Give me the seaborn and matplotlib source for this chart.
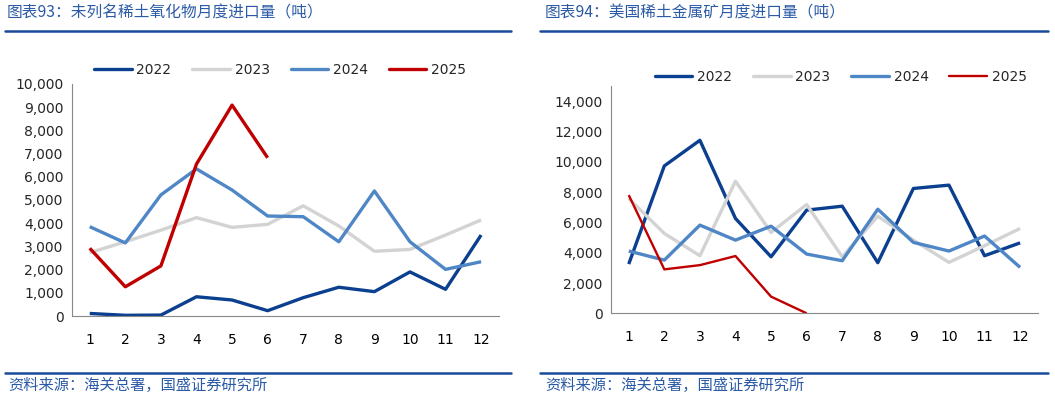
import matplotlib
matplotlib.use("Agg")
import matplotlib.pyplot as plt
import matplotlib.ticker as mticker
from matplotlib.lines import Line2D
import seaborn as sns
import pandas as pd

months = list(range(1, 13))
years = ["2022", "2023", "2024", "2025"]

# Panel 93: unlisted rare-earth oxides monthly imports (t)
left_2022 = [110, 30, 40, 830, 690, 230, 790, 1240, 1050, 1900, 1150, 3490]
left_2023 = [2730, 3200, 3700, 4240, 3820, 3950, 4750, 3880, 2790, 2870, 3490, 4140]
left_2024 = [3850, 3150, 5220, 6340, 5430, 4310, 4280, 3200, 5390, 3200, 2010, 2340]
left_2025 = [2920, 1260, 2160, 6550, 9090, 6820]

# Panel 94: US rare-earth metal ore monthly imports (t)
right_2022 = [3250, 9730, 11420, 6260, 3730, 6810, 7070, 3340, 8240, 8460, 3800, 4650]
right_2023 = [7580, 5270, 3800, 8720, 5340, 7180, 3730, 6410, 4830, 3360, 4460, 5600]
right_2024 = [4110, 3510, 5820, 4830, 5750, 3910, 3470, 6870, 4680, 4110, 5100, 3030]
right_2025 = [7800, 2900, 3180, 3780, 1100, 0]

title_left = "图表93：未列名稀土氧化物月度进口量（吨）"
title_right = "图表94：美国稀土金属矿月度进口量（吨）"
source_text = "资料来源：海关总署，国盛证券研究所"

colors = {"2022": "#0b3f8f", "2023": "#d3d3d3", "2024": "#4f86c6", "2025": "#c00000"}


def to_long(series_list):
    rows = []
    for y, vals in zip(years, series_list):
        for m, v in zip(months, vals):
            rows.append({"month": m, "value": v, "year": y})
    return pd.DataFrame(rows)


sns.set_style("white")
plt.rcParams["font.family"] = ["DejaVu Sans", "Noto Sans CJK SC"]

fig = plt.figure(figsize=(10.55, 3.98), dpi=100)

cjk = ["Noto Sans CJK SC", "DejaVu Sans"]
blue_txt = "#2b5aa6"
rule_col = "#1b4a9a"


def panel(rect, data, ymax, ystep, ytop, legend_center, widths):
    ax = fig.add_axes(rect)
    df = to_long(data)
    for y in years:
        sub = df[df["year"] == y]
        sns.lineplot(data=sub, x="month", y="value", color=colors[y],
                     linewidth=widths[y], ax=ax, legend=False,
                     solid_capstyle="butt")
    ax.set_xlim(0.5, 12.5)
    ax.set_ylim(0, ytop)
    ax.set_xticks(months)
    ax.set_xticklabels([str(m) for m in months])
    ax.xaxis.set_minor_locator(mticker.FixedLocator([m + 0.5 for m in range(0, 13)]))
    ax.set_yticks(list(range(0, ymax + 1, ystep)))
    ax.yaxis.set_major_formatter(mticker.FuncFormatter(lambda v, p: f"{int(v):,}"))
    ax.tick_params(axis="x", which="major", length=0, pad=12, labelsize=10, colors="#000000")
    ax.tick_params(axis="x", which="minor", length=5, direction="in", color="#888888", width=0.8)
    ax.tick_params(axis="y", which="major", length=5, direction="in", color="#888888",
                   width=0.8, labelsize=10, pad=6)
    ax.set_xlabel("")
    ax.set_ylabel("")
    for s in ["top", "right"]:
        ax.spines[s].set_visible(False)
    for s in ["left", "bottom"]:
        ax.spines[s].set_color("#888888")
        ax.spines[s].set_linewidth(0.8)
    ax.set_facecolor("none")
    handles = [Line2D([0], [0], color=colors[y], linewidth=widths[y]) for y in years]
    fig.legend(handles, years, loc="center", bbox_to_anchor=legend_center, ncol=4,
               frameon=False, fontsize=10, handlelength=2.7, handletextpad=0.35,
               columnspacing=1.5)
    return ax


panel([0.0682, 0.206, 0.4047, 0.583], [left_2022, left_2023, left_2024, left_2025],
      10000, 1000, 10000, (0.2655, 0.824),
      {"2022": 2.4, "2023": 2.4, "2024": 2.4, "2025": 2.4})
panel([0.5791, 0.2128, 0.4047, 0.571], [right_2022, right_2023, right_2024, right_2025],
      14000, 2000, 15000, (0.797, 0.806),
      {"2022": 2.4, "2023": 2.4, "2024": 2.4, "2025": 1.7})

# titles
fig.text(7 / 1055, 1 - 13 / 398, title_left, family=cjk, fontsize=11.3,
         color=blue_txt, ha="left", va="center", style="italic")
fig.text(545 / 1055, 1 - 13 / 398, title_right, family=cjk, fontsize=11.3,
         color=blue_txt, ha="left", va="center", style="italic")

# rules
for x0, x1 in [(5, 511), (540, 1048)]:
    fig.add_artist(Line2D([x0 / 1055, x1 / 1055], [1 - 31 / 398] * 2, color=rule_col,
                          linewidth=1.8, transform=fig.transFigure))
    fig.add_artist(Line2D([x0 / 1055, x1 / 1055], [1 - 373 / 398] * 2, color=rule_col,
                          linewidth=1.8, transform=fig.transFigure))

# sources
fig.text(8 / 1055, 1 - 385 / 398, source_text, family=cjk, fontsize=11,
         color=blue_txt, ha="left", va="center", style="italic")
fig.text(545 / 1055, 1 - 385 / 398, source_text, family=cjk, fontsize=11,
         color=blue_txt, ha="left", va="center", style="italic")

fig.savefig("out.png", dpi=100)
